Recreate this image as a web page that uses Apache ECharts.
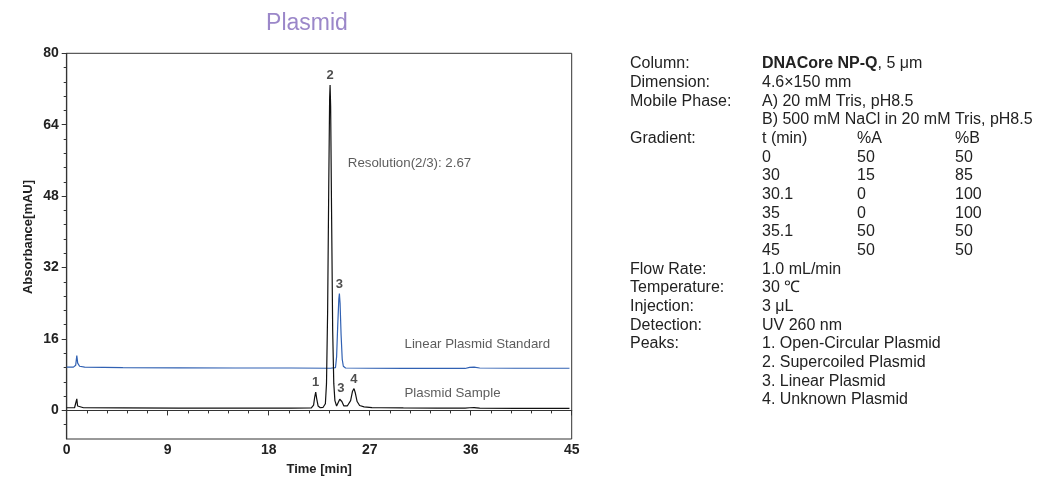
<!DOCTYPE html>
<html>
<head>
<meta charset="utf-8" />
<script src="https://cdn.jsdelivr.net/npm/echarts@6/dist/echarts.min.js"></script>
<style>
  html, body { margin: 0; padding: 0; background: #fff; }
  #chart { width: 1040px; height: 478px; }
</style>
</head>
<body>
<div id="chart"></div>
<script>
// chromatogram traces, [time (min), absorbance (mAU)]
const sampleTrace = [
  [0, 0.6], [0.7, 0.6], [0.82, 0.7], [0.9, 2.6], [0.97, 1.0], [1.1, 0.7], [1.5, 0.6],
  [5, 0.55], [10, 0.5], [15, 0.5], [20, 0.5], [21.8, 0.55], [22.0, 1.2], [22.1, 3.0],
  [22.19, 4.1], [22.28, 2.6], [22.4, 1.0], [22.6, 0.6], [22.85, 0.7], [23.05, 1.5],
  [23.15, 6], [23.25, 22], [23.35, 50], [23.43, 70], [23.47, 72.9], [23.52, 68],
  [23.6, 45], [23.7, 18], [23.8, 6], [23.9, 2.2], [24.05, 1.0], [24.2, 1.2],
  [24.33, 2.5], [24.42, 2.8], [24.52, 2.0], [24.7, 1.0], [25.0, 1.0], [25.3, 2.2],
  [25.47, 4.3], [25.6, 4.9], [25.72, 3.9], [25.88, 2.0], [26.1, 1.1], [26.5, 0.8],
  [27.2, 0.65], [28, 0.6], [30, 0.55], [33, 0.5], [35.5, 0.5], [35.9, 0.6],
  [36.3, 0.62], [36.8, 0.5], [40, 0.45], [44.8, 0.45]
];
const standardTrace = [
  [0, 9.7], [0.6, 9.7], [0.8, 10.1], [0.9, 12.3], [0.98, 10.6], [1.15, 9.9], [1.6, 9.7],
  [5, 9.6], [10, 9.55], [15, 9.5], [20, 9.5], [23.5, 9.45], [23.95, 9.6], [24.05, 12],
  [24.15, 19], [24.25, 25], [24.3, 26.2], [24.36, 24], [24.45, 17], [24.55, 11.5],
  [24.65, 9.9], [24.85, 9.5], [27, 9.45], [30, 9.4], [33, 9.4], [35.5, 9.4],
  [35.9, 9.65], [36.3, 9.7], [36.8, 9.5], [40, 9.45], [44.8, 9.45]
];

// peak labels: [time, apex, label]
const sampleLabels = [[22.19, 4.1, '1'], [23.47, 72.9, '2'], [24.42, 2.8, '3'], [25.6, 4.9, '4']];
const standardLabels = [[24.3, 26.2, '3']];

// free text notes placed in data coordinates: [time, value, text]
const notes = [
  [25.05, 55.4, 'Resolution(2/3): 2.67'],
  [30.1, 14.9, 'Linear Plasmid Standard'],
  [30.1, 3.8, 'Plasmid Sample']
];

const yTicks = [0, 16, 32, 48, 64, 80];
const yMinorTicks = [-3.2, 3.2, 6.4, 9.6, 12.8, 19.2, 22.4, 25.6, 28.8, 35.2, 38.4, 41.6, 44.8,
  51.2, 54.4, 57.6, 60.8, 67.2, 70.4, 73.6, 76.8];

// method conditions panel
const infoLabels = ['Column:', 'Dimension:', 'Mobile Phase:', '', 'Gradient:'];
const infoValues = ['{b|DNACore NP-Q}, 5 μm', '4.6×150 mm', 'A) 20 mM Tris, pH8.5',
  'B) 500 mM NaCl in 20 mM Tris, pH8.5', ''];
const gradientHead = ['t (min)', '%A', '%B'];
const gradientTime = ['0', '30', '30.1', '35', '35.1', '45'];
const gradientA = ['50', '15', '0', '0', '50', '50'];
const gradientB = ['50', '85', '100', '100', '50', '50'];
const tailLabels = ['Flow Rate:', 'Temperature:', 'Injection:', 'Detection:', 'Peaks:', '', '', ''];
const tailValues = ['1.0 mL/min', '30 ℃', '3 μL', 'UV 260 nm', '1. Open-Circular Plasmid',
  '2. Supercoiled Plasmid', '3. Linear Plasmid', '4. Unknown Plasmid'];

const FONT = '"Liberation Sans", Arial, sans-serif';
const rowTop = 64;
const rowStep = 18.67;
const colLabel = 630, colValue = 762, colA = 857, colB = 955;

const graphics = [];
const addText = (x, row, text) => {
  if (!text) return;
  graphics.push({
    type: 'text', x: x, y: rowTop + row * rowStep,
    style: {
      text: text, fill: '#222', font: '16px ' + FONT, textVerticalAlign: 'middle',
      rich: { b: { fontWeight: 'bold', fontSize: 16, fontFamily: FONT, fill: '#222' } }
    }
  });
};
infoLabels.forEach((t, i) => addText(colLabel, i, t));
infoValues.forEach((t, i) => addText(colValue, i, t));
addText(colValue, 4, gradientHead[0]);
addText(colA, 4, gradientHead[1]);
addText(colB, 4, gradientHead[2]);
gradientTime.forEach((t, i) => {
  addText(colValue, 5 + i, t);
  addText(colA, 5 + i, gradientA[i]);
  addText(colB, 5 + i, gradientB[i]);
});
tailLabels.forEach((t, i) => addText(colLabel, 11 + i, t));
tailValues.forEach((t, i) => addText(colValue, 11 + i, t));

// y axis title, placed by hand to sit where the reference has it
graphics.push({
  type: 'text', x: 28, y: 237, rotation: Math.PI / 2,
  style: {
    text: 'Absorbance[mAU]', fill: '#222', font: 'bold 13px ' + FONT,
    textAlign: 'center', textVerticalAlign: 'middle'
  }
});

const chart = echarts.init(document.getElementById('chart'));

const peakLabel = (data) => ({
  type: 'scatter',
  data: data,
  symbolSize: 0,
  silent: true,
  z: 5,
  label: {
    show: true, position: 'top', distance: 3,
    formatter: p => p.data[2],
    color: '#222', fontWeight: 'bold', fontSize: 13, fontFamily: FONT
  }
});

const option = {
  animation: false,
  textStyle: { fontFamily: FONT },
  title: {
    text: 'Plasmid',
    left: 302, top: 7, textAlign: 'center',
    textStyle: { color: '#9b87c9', fontSize: 23, fontWeight: 'normal', fontFamily: FONT }
  },
  grid: {
    left: 66.7, top: 53.3, width: 505, height: 385.7,
    outerBoundsMode: 'none', containLabel: false,
    show: true, borderColor: '#333', borderWidth: 1, backgroundColor: '#fff'
  },
  xAxis: {
    type: 'value', min: 0, max: 45, interval: 9,
    name: 'Time [min]', nameLocation: 'middle', nameGap: 24,
    nameTextStyle: { fontWeight: 'bold', fontSize: 13, color: '#222', fontFamily: FONT },
    axisLine: { show: true, lineStyle: { color: '#333', width: 1.2 } },
    axisTick: { show: true, length: 5, lineStyle: { color: '#333' } },
    minorTick: { show: true, splitNumber: 5, length: 3, lineStyle: { color: '#333' } },
    splitLine: { show: false },
    axisLabel: { margin: 4, fontWeight: 'bold', fontSize: 14, color: '#222', fontFamily: FONT }
  },
  yAxis: [{
    type: 'value', min: -6.4, max: 80,
    axisLine: { show: true, lineStyle: { color: '#333', width: 1.2 } },
    axisTick: { show: true, length: 5, customValues: yTicks, lineStyle: { color: '#333' } },
    splitLine: { show: false },
    axisLabel: { customValues: yTicks, margin: 8, fontWeight: 'bold', fontSize: 14, color: '#222', fontFamily: FONT }
  }, {
    type: 'value', min: -6.4, max: 80, position: 'left',
    axisLine: { show: false },
    axisTick: { show: true, length: 3, customValues: yMinorTicks, lineStyle: { color: '#333' } },
    axisLabel: { show: false },
    splitLine: { show: false }
  }],
  series: [
    {
      name: 'Linear Plasmid Standard', type: 'line', data: standardTrace,
      showSymbol: false, silent: true, z: 3,
      lineStyle: { color: '#3161b3', width: 1.2 }
    },
    {
      name: 'Plasmid Sample', type: 'line', data: sampleTrace,
      showSymbol: false, silent: true, z: 4,
      lineStyle: { color: '#111', width: 1.2 }
    },
    peakLabel(sampleLabels),
    peakLabel(standardLabels),
    {
      type: 'scatter', data: notes, symbolSize: 0, silent: true, z: 5,
      label: {
        show: true, position: 'right', distance: 0,
        formatter: p => p.data[2],
        color: '#333', fontSize: 13.3, fontFamily: FONT
      }
    }
  ],
  graphic: graphics
};

chart.setOption(option);
</script>
</body>
</html>
